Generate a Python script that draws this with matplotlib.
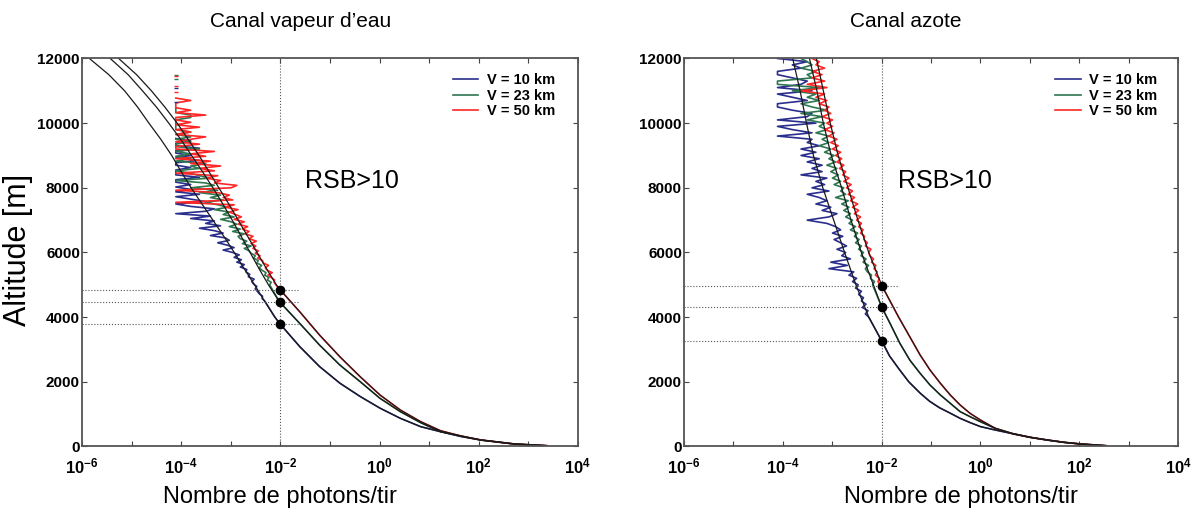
import matplotlib.pyplot as plt
import numpy as np
from matplotlib.ticker import FuncFormatter, LogLocator, NullLocator

plt.rcParams['font.family'] = ['Liberation Sans', 'DejaVu Sans']
plt.rcParams['mathtext.fontset'] = 'custom'
plt.rcParams['mathtext.rm'] = 'Liberation Sans'
plt.rcParams['mathtext.bf'] = 'Liberation Sans:bold'

series_labels = ['V = 10 km', 'V = 23 km', 'V = 50 km']
series_colors = ['#2a2e8c', '#2e7650', '#ff2626']

# one detected photon averaged over the shots (floor of the noisy profiles)
photon_unit = 7.8e-5

# ---- canal vapeur d'eau : smooth profiles (altitude m, log10 photons/tir)
h2o_alt_10 = [25, 77, 201, 310, 458, 613, 871, 1185, 1546, 1958, 2473, 3091, 3780, 4000, 4500,
              5000, 5500, 6000, 6500, 7000, 7500, 8000, 8500, 9000, 9500, 10000, 10500, 11000, 11500, 12000]
h2o_log_10 = [3.37, 2.72, 2.04, 1.64, 1.23, 0.83, 0.42, 0.01, -0.39, -0.80, -1.21, -1.61, -2.00, -2.11, -2.32,
              -2.52, -2.73, -2.93, -3.14, -3.36, -3.58, -3.80, -4.00, -4.19, -4.41, -4.65, -4.88, -5.14, -5.46, -5.85]
h2o_alt_23 = [25, 77, 201, 325, 458, 736, 1077, 1489, 2004, 2519, 3138, 3808, 4480,
              5000, 5500, 6000, 6500, 7000, 7500, 8000, 8500, 9000, 9500, 10000, 10500, 11000, 11500, 12000]
h2o_log_23 = [3.37, 2.72, 2.04, 1.64, 1.23, 0.83, 0.42, 0.01, -0.39, -0.80, -1.21, -1.61, -2.02,
              -2.24, -2.43, -2.61, -2.79, -2.97, -3.16, -3.36, -3.57, -3.79, -4.01, -4.25, -4.50, -4.78, -5.07, -5.43]
h2o_alt_50 = [25, 77, 201, 325, 488, 767, 1128, 1592, 2158, 2776, 3447, 4168, 4840,
              5000, 5500, 6000, 6500, 7000, 7500, 8000, 8500, 9000, 9500, 10000, 10500, 11000, 11500, 12000]
h2o_log_50 = [3.37, 2.72, 2.04, 1.64, 1.23, 0.83, 0.42, 0.01, -0.39, -0.80, -1.21, -1.61, -2.00,
              -2.08, -2.28, -2.47, -2.66, -2.85, -3.04, -3.24, -3.44, -3.64, -3.86, -4.08, -4.33, -4.60, -4.90, -5.26]

# noisy simulated profiles: first altitude, step, counts in photon_unit (0 = nothing)
h2o_noise_start = [4500, 5000, 5000]
h2o_noise_step = 75
h2o_counts_10 = [62, 55, 56, 48, 44, 40, 43, 37, 34, 38, 29, 31, 26, 27, 20, 24, 17, 21, 15, 19,
                 14, 9, 15, 11, 7, 12, 10, 5, 9, 6, 3, 8, 4, 6, 2, 5, 1, 4, 6, 2,
                 1, 4, 2, 1, 3, 1, 2, 1, 2, 1, 1, 3, 1, 1, 1, 2, 1, 1, 3, 1,
                 2, 1, 1, 3, 1, 1, 2, 1, 0]
h2o_counts_23 = [78, 84, 70, 75, 62, 66, 55, 48, 54, 43, 46, 37, 40, 33, 30, 24, 33, 22, 27, 20,
                 18, 24, 14, 20, 12, 17, 13, 8, 15, 9, 12, 6, 11, 7, 4, 9, 5, 8, 3, 7,
                 2, 6, 4, 1, 5, 3, 2, 1, 3, 2, 4, 1, 2, 1, 2, 1, 3, 1, 1, 2,
                 1, 2, 1, 2, 1, 1, 1, 1, 1, 2, 2, 1, 1, 1, 0]
h2o_counts_50 = [104, 96, 98, 84, 72, 88, 70, 64, 74, 58, 56, 45, 50, 40, 46, 36, 41, 33, 42, 30, 36, 25, 30,
                 22, 28, 18, 24, 15, 21, 16, 12, 18, 10, 15, 1, 14, 9, 12, 7, 1, 13, 17, 6, 8,
                 4, 7, 1, 6, 3, 8, 2, 5, 1, 4, 2, 6, 1, 1, 3, 1, 2, 4, 1, 2,
                 1, 3, 1, 2, 1, 1, 4, 1, 2, 1, 1, 1, 2, 1, 0]
h2o_sparse_alt = [11500, 11350, 11450, 11150, 10950, 11100, 10650]
h2o_sparse_series = [1, 1, 2, 2, 2, 0, 0]
h2o_dots = [3780, 4480, 4840]

# ---- canal azote
n2_alt_10 = [25, 77, 129, 201, 283, 400, 510, 615, 740, 870, 1030, 1200, 1400, 1650, 2000, 2400, 2800,
             3270, 4000, 5000, 6000, 7000, 8000, 9000, 10000, 11000, 12000]
n2_log_10 = [2.54, 2.03, 1.69, 1.35, 1.01, 0.64, 0.30, 0.00, -0.21, -0.41, -0.61, -0.83, -1.03, -1.22, -1.45, -1.65, -1.84,
             -2.00, -2.26, -2.52, -2.75, -2.97, -3.19, -3.38, -3.52, -3.65, -3.80]
n2_alt_23 = [25, 77, 129, 201, 283, 400, 561, 767, 922, 1077, 1335, 1592, 1901, 2262, 2674, 3190, 3808,
             4320, 5300, 6000, 7000, 8000, 9000, 10000, 11000, 12000]
n2_log_23 = [2.54, 2.03, 1.69, 1.35, 1.01, 0.65, 0.30, 0.00, -0.21, -0.41, -0.61, -0.81, -1.02, -1.22, -1.43, -1.63, -1.83,
             -2.00, -2.24, -2.41, -2.62, -2.81, -3.02, -3.18, -3.31, -3.46]
n2_alt_50 = [25, 77, 129, 201, 283, 386, 561, 819, 1025, 1283, 1592, 1953, 2365, 2828, 3394, 4012, 4529,
             4960, 5300, 6000, 7000, 8000, 9000, 10000, 11000, 12000]
n2_log_50 = [2.54, 2.03, 1.69, 1.35, 1.01, 0.67, 0.30, 0.00, -0.21, -0.41, -0.61, -0.81, -1.02, -1.22, -1.43, -1.66, -1.84,
             -1.99, -2.08, -2.26, -2.48, -2.68, -2.88, -3.04, -3.18, -3.32]

n2_noise_start = [4100, 5000, 5000]
n2_noise_step = 100
n2_counts_10 = [60, 68, 52, 62, 50, 55, 44, 50, 38, 43, 33, 40, 28, 35, 11, 26, 12, 30, 20, 24,
                16, 25, 19, 14, 21, 13, 19, 15, 10, 4, 11, 16, 8, 12, 6, 10, 7, 4, 11, 5,
                9, 6, 10, 3, 8, 5, 8, 4, 7, 3, 6, 3, 7, 4, 5, 1, 5, 2, 1, 6,
                1, 4, 5, 2, 1, 1, 4, 2, 1, 5, 1, 3, 4, 2, 1, 1, 3, 2, 4, 1]
n2_counts_23 = [84, 92, 76, 80, 66, 60, 70, 54, 62, 49, 55, 44, 50, 38, 45, 36, 42, 30, 38, 28,
                33, 24, 30, 22, 28, 20, 27, 15, 24, 19, 22, 14, 19, 13, 17, 12, 16, 10, 15, 11,
                14, 9, 12, 7, 11, 8, 11, 6, 10, 7, 9, 4, 8, 3, 10, 5, 3, 7, 4, 6,
                2, 7, 1, 1, 5, 4, 6, 3, 5, 4, 3]
n2_counts_50 = [120, 108, 115, 96, 104, 90, 98, 80, 88, 74, 70, 78, 60, 66, 56, 58, 48, 54, 44, 50,
                40, 48, 36, 44, 33, 42, 30, 36, 27, 33, 25, 31, 22, 28, 21, 24, 18, 22, 16, 20,
                15, 19, 13, 17, 12, 16, 11, 14, 9, 13, 10, 13, 8, 12, 9, 11, 7, 10, 6, 9,
                3, 10, 4, 9, 5, 8, 5, 9, 6, 7, 5]
n2_dots = [3270, 4320, 4960]

rsb_text = 'RSB>10'
xlabel_text = 'Nombre de photons/tir'


def exp_label(v, pos):
    e = int(round(np.log10(v)))
    return r'$\mathbf{10^{%d}}$' % e if e % 2 == 0 else ''


def draw_panel(ax, models, noise_start, noise_step, counts, dots, title, title_x, xlabel_x, rsb_x, leg_x,
               sparse_alt=None, sparse_series=None):
    handles = []
    for i in range(3):
        alt, lg = np.array(models[i][0]), np.array(models[i][1])
        keep = alt < noise_start[i]
        k = np.array(counts[i], dtype=float)
        k[k == 0] = np.nan
        n_alt = noise_start[i] + noise_step * np.arange(len(k))
        x = np.concatenate([10 ** lg[keep], k * photon_unit])
        y = np.concatenate([alt[keep], n_alt])
        h, = ax.plot(x, y, color=series_colors[i], lw=1.2, label=series_labels[i])
        handles.append(h)
    if sparse_alt is not None:
        for a, s in zip(sparse_alt, sparse_series):
            ax.plot([photon_unit], [a], marker='_', ms=3, color=series_colors[s], mew=1.0)
    for i in range(3):
        ax.plot(10 ** np.array(models[i][1]), models[i][0], color='#1a1a1a', lw=0.9)

    ax.axvline(1e-2, color='#555555', ls=':', lw=0.8)
    for d in dots:
        ax.plot([1e-6, 2.3e-2], [d, d], color='#555555', ls=':', lw=0.8)
    ax.plot([1e-2] * len(dots), dots, 'o', color='black', ms=6)

    ax.set_xscale('log')
    ax.set_xlim(1e-6, 1e4)
    ax.set_ylim(0, 12000)
    ax.xaxis.set_major_locator(LogLocator(base=10, subs=(1.0,), numticks=20))
    ax.xaxis.set_minor_locator(NullLocator())
    ax.xaxis.set_major_formatter(FuncFormatter(exp_label))
    ax.set_yticks(range(0, 12001, 2000), [str(v) for v in range(0, 12001, 2000)], fontweight='bold')
    ax.tick_params(which='both', direction='in', top=True, right=True, length=3.5, width=0.8,
                   color='#444444')
    ax.tick_params(axis='y', pad=1.5, labelsize=11)
    ax.tick_params(axis='x', pad=7, labelsize=12)
    for sp in ax.spines.values():
        sp.set_color('#555555')
        sp.set_linewidth(1.3)

    ax.text(title_x, 1.094, title, transform=ax.transAxes, ha='center', va='center', fontsize=15)
    ax.text(xlabel_x, -0.13, xlabel_text, transform=ax.transAxes, ha='center', va='center', fontsize=17)
    ax.text(rsb_x, 0.684, rsb_text, transform=ax.transAxes, ha='left', va='center', fontsize=18)
    ax.legend(handles=handles, loc='upper left', bbox_to_anchor=(leg_x, 0.962), frameon=False,
              borderpad=0, borderaxespad=0, handlelength=1.75, handletextpad=0.6, labelspacing=0.1,
              prop={'weight': 'bold', 'size': 10.5})


fig = plt.figure(figsize=(12, 5.16), dpi=100)
ax1 = fig.add_axes([0.0683, 0.1347, 0.4133, 0.752])
ax2 = fig.add_axes([0.570, 0.1347, 0.4117, 0.752])

draw_panel(ax1, [(h2o_alt_10, h2o_log_10), (h2o_alt_23, h2o_log_23), (h2o_alt_50, h2o_log_50)],
           h2o_noise_start, h2o_noise_step, [h2o_counts_10, h2o_counts_23, h2o_counts_50], h2o_dots,
           'Canal vapeur d\u2019eau', 0.44, 0.40, 0.45, 0.748, h2o_sparse_alt, h2o_sparse_series)
draw_panel(ax2, [(n2_alt_10, n2_log_10), (n2_alt_23, n2_log_23), (n2_alt_50, n2_log_50)],
           n2_noise_start, n2_noise_step, [n2_counts_10, n2_counts_23, n2_counts_50], n2_dots,
           'Canal azote', 0.449, 0.56, 0.433, 0.751)

ax1.text(-0.129, 0.506, 'Altitude [m]', transform=ax1.transAxes, rotation=90,
         ha='center', va='center', fontsize=22)

fig.savefig('out.png', dpi=100)
